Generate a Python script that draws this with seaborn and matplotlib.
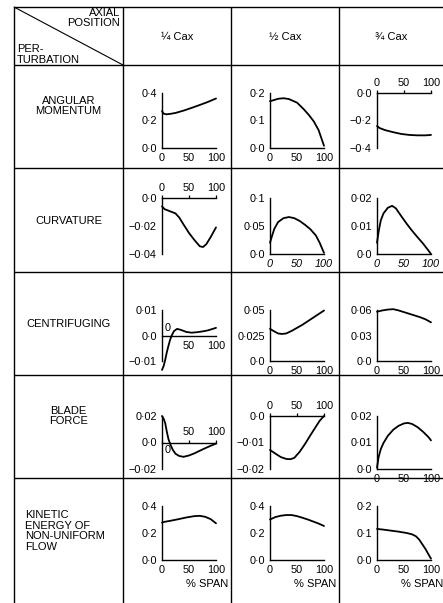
import matplotlib
matplotlib.use('Agg')
import matplotlib.pyplot as plt
import seaborn as sns

sns.set_style('white')
plt.rcParams['font.family'] = ['Liberation Sans', 'DejaVu Sans']
plt.rcParams['text.color'] = 'black'
plt.rcParams['axes.labelcolor'] = 'black'
plt.rcParams['xtick.color'] = 'black'
plt.rcParams['ytick.color'] = 'black'
plt.rcParams['axes.edgecolor'] = 'black'

# 表头与行标签
col_titles = ['¼ Cax', '½ Cax', '¾ Cax']
row_titles = ['ANGULAR\nMOMENTUM', 'CURVATURE', 'CENTRIFUGING', 'BLADE\nFORCE',
              'KINETIC\nENERGY OF\nNON-UNIFORM\nFLOW']
span_ticks = [0, 50, 100]
span_labels = ['0', '50', '100']

# ANGULAR MOMENTUM
am1_x = [0, 3, 8, 15, 25, 40, 55, 70, 85, 100]
am1_y = [0.268, 0.25, 0.245, 0.248, 0.255, 0.272, 0.292, 0.313, 0.335, 0.36]
am2_x = [0, 5, 15, 25, 35, 50, 62, 72, 81, 90, 100]
am2_y = [0.17, 0.173, 0.179, 0.181, 0.178, 0.165, 0.142, 0.12, 0.097, 0.065, 0.008]
am3_x = [0, 5, 15, 30, 45, 60, 75, 90, 100]
am3_y = [-0.24, -0.255, -0.27, -0.285, -0.298, -0.305, -0.308, -0.308, -0.305]

# CURVATURE
cv1_x = [0, 5, 15, 25, 32, 40, 50, 60, 70, 76, 82, 90, 100]
cv1_y = [-0.006, -0.008, -0.0095, -0.011, -0.014, -0.019, -0.025, -0.030, -0.0345,
         -0.035, -0.033, -0.028, -0.021]
cv2_x = [0, 3, 8, 15, 25, 35, 45, 55, 65, 75, 85, 92, 100]
cv2_y = [0.02, 0.03, 0.045, 0.057, 0.064, 0.066, 0.064, 0.059, 0.052, 0.044, 0.033, 0.02, 0.002]
cv3_x = [0, 3, 7, 12, 20, 28, 35, 45, 55, 65, 75, 85, 95, 100]
cv3_y = [0.004, 0.008, 0.012, 0.0145, 0.0165, 0.0172, 0.0163, 0.0135, 0.0108, 0.0083,
         0.006, 0.0038, 0.0013, 0.0]

# CENTRIFUGING
cf1_x = [0, 3, 6, 9, 12, 15, 18, 22, 28, 35, 45, 55, 65, 75, 85, 100]
cf1_y = [-0.0135, -0.012, -0.0095, -0.0065, -0.004, -0.0017, 0.0, 0.0017, 0.0026, 0.0022,
         0.0014, 0.0011, 0.0013, 0.0016, 0.002, 0.003]
cf2_x = [0, 8, 15, 22, 30, 40, 50, 60, 70, 80, 90, 100]
cf2_y = [0.0315, 0.029, 0.027, 0.0265, 0.027, 0.0295, 0.0325, 0.0355, 0.039, 0.0425, 0.046, 0.0495]
cf3_x = [0, 10, 20, 30, 40, 50, 60, 70, 80, 90, 100]
cf3_y = [0.058, 0.0595, 0.0605, 0.061, 0.0595, 0.0575, 0.0555, 0.0535, 0.0515, 0.049, 0.0455]

# BLADE FORCE
bf1_x = [0, 3, 6, 9, 12, 16, 20, 25, 32, 40, 50, 60, 70, 80, 90, 100]
bf1_y = [0.02, 0.018, 0.0145, 0.008, 0.0025, -0.002, -0.0055, -0.0085, -0.0102, -0.0108,
         -0.0098, -0.0082, -0.0062, -0.0043, -0.0025, -0.0008]
bf2_x = [0, 10, 20, 30, 38, 45, 55, 65, 75, 85, 92, 100]
bf2_y = [-0.0128, -0.0142, -0.0155, -0.0162, -0.0163, -0.0158, -0.0135, -0.0105, -0.0072,
         -0.004, -0.0018, 0.0]
bf3_x = [0, 3, 7, 12, 20, 30, 40, 50, 57, 65, 75, 85, 95, 100]
bf3_y = [0.0005, 0.0045, 0.0075, 0.0098, 0.0125, 0.0148, 0.0163, 0.0172, 0.0174, 0.017,
         0.0158, 0.0141, 0.0121, 0.0108]

# KINETIC ENERGY OF NON-UNIFORM FLOW
ke1_x = [0, 5, 15, 30, 45, 60, 70, 80, 90, 100]
ke1_y = [0.277, 0.283, 0.29, 0.302, 0.315, 0.325, 0.327, 0.32, 0.303, 0.272]
ke2_x = [0, 10, 20, 30, 40, 50, 60, 70, 80, 90, 100]
ke2_y = [0.3, 0.318, 0.328, 0.333, 0.333, 0.325, 0.313, 0.3, 0.285, 0.27, 0.252]
ke3_x = [0, 10, 25, 40, 55, 65, 72, 78, 84, 90, 95, 100]
ke3_y = [0.115, 0.113, 0.109, 0.105, 0.1, 0.095, 0.088, 0.076, 0.058, 0.04, 0.022, 0.005]

# y 轴刻度
am_yticks = [[0, 0.2, 0.4], [0, 0.1, 0.2], [-0.4, -0.2, 0]]
am_ylabels = [['0·0', '0·2', '0·4'], ['0·0', '0·1', '0·2'], ['−0·4', '−0·2', '0·0']]
cv_yticks = [[-0.04, -0.02, 0], [0, 0.05, 0.1], [0, 0.01, 0.02]]
cv_ylabels = [['−0·04', '−0·02', '0·0'], ['0·0', '0·05', '0·1'], ['0·0', '0·01', '0·02']]
cf_yticks = [[-0.01, 0, 0.01], [0, 0.025, 0.05], [0, 0.03, 0.06]]
cf_ylabels = [['−0·01', '0·0', '0·01'], ['0·0', '0·025', '0·05'], ['0·0', '0·03', '0·06']]
bf_yticks = [[-0.02, 0, 0.02], [-0.02, -0.01, 0], [0, 0.01, 0.02]]
bf_ylabels = [['−0·02', '0·0', '0·02'], ['−0·02', '−0·01', '0·0'], ['0·0', '0·01', '0·02']]
ke_yticks = [[0, 0.2, 0.4], [0, 0.2, 0.4], [0, 0.1, 0.2]]
ke_ylabels = [['0·0', '0·2', '0·4'], ['0·0', '0·2', '0·4'], ['0·0', '0·1', '0·2']]

curves = [
    [(am1_x, am1_y), (am2_x, am2_y), (am3_x, am3_y)],
    [(cv1_x, cv1_y), (cv2_x, cv2_y), (cv3_x, cv3_y)],
    [(cf1_x, cf1_y), (cf2_x, cf2_y), (cf3_x, cf3_y)],
    [(bf1_x, bf1_y), (bf2_x, bf2_y), (bf3_x, bf3_y)],
    [(ke1_x, ke1_y), (ke2_x, ke2_y), (ke3_x, ke3_y)],
]
yticks = [am_yticks, cv_yticks, cf_yticks, bf_yticks, ke_yticks]
ylabels = [am_ylabels, cv_ylabels, cf_ylabels, bf_ylabels, ke_ylabels]

# 版面（像素）
W, H = 443, 603
col_x0 = [162, 270, 377]
ax_w = 54
row_top = [93, 198, 310, 416, 506]
row_bot = [148, 254, 361, 469, 560]
grid_x = [14, 123, 231, 339]
grid_y = [7, 65, 168, 272, 375, 478]
row_text_y = [106, 221, 324, 416, 531]
fs_tick = 7.8
fs_text = 8

fig = plt.figure(figsize=(W / 100, H / 100), dpi=100)

# 表格线
bg = fig.add_axes([0, 0, 1, 1])
bg.set_xlim(0, W)
bg.set_ylim(H, 0)
bg.axis('off')
bg.vlines(grid_x, grid_y[0], H, color='black', lw=1.0)
bg.hlines(grid_y, grid_x[0], W, color='black', lw=1.0)
bg.plot([grid_x[0], grid_x[1]], [grid_y[0], grid_y[1]], color='black', lw=0.8)
bg.text(120, 8, 'AXIAL\nPOSITION', ha='right', va='top', fontsize=fs_text,
        multialignment='right', linespacing=1.05)
bg.text(17, 65, 'PER-\nTURBATION', ha='left', va='bottom', fontsize=fs_text, linespacing=1.1)
for i, t in enumerate(col_titles):
    bg.text((grid_x[i + 1] + (grid_x[i + 2] if i < 2 else W)) / 2, 37, t,
            ha='center', va='center', fontsize=fs_text)
for j, t in enumerate(row_titles):
    if j == 4:
        bg.text(25, row_text_y[j], t, ha='left', va='center', fontsize=fs_text, linespacing=1.05)
    else:
        bg.text((grid_x[0] + grid_x[1]) / 2, row_text_y[j], t, ha='center', va='center',
                fontsize=fs_text, multialignment='center', linespacing=1.05)

# 各小图
for r in range(5):
    for c in range(3):
        rect = [col_x0[c] / W, 1 - row_bot[r] / H, ax_w / W, (row_bot[r] - row_top[r]) / H]
        ax = fig.add_axes(rect)
        ax.patch.set_alpha(0)
        xs, ys = curves[r][c]
        sns.lineplot(x=xs, y=ys, ax=ax, color='black', linewidth=1.3,
                     estimator=None, sort=False)
        for ln in ax.lines:
            ln.set_clip_on(False)
        yt = yticks[r][c]
        ax.set_xlim(0, 100)
        ax.set_ylim(yt[0], yt[-1])
        ax.set_yticks(yt)
        ax.set_yticklabels(ylabels[r][c])
        ax.set_xticks(span_ticks)
        for s in ['top', 'right', 'bottom']:
            ax.spines[s].set_visible(False)
        ax.spines['left'].set_linewidth(1.0)

        xlab = list(span_labels)
        if yt[-1] == 0:
            side = 'top'
        elif yt[0] == 0:
            side = 'bottom'
        else:
            side = 'top' if (r, c) == (3, 0) else 'bottom'
            xlab[0] = ''
        ax.spines[side].set_visible(True)
        ax.spines[side].set_linewidth(1.0)
        if yt[0] < 0 < yt[-1]:
            ax.spines[side].set_position(('data', 0))
        if side == 'top':
            ax.xaxis.tick_top()
        ax.set_xticklabels(xlab, fontstyle='italic' if r == 1 and c > 0 else 'normal')
        ax.tick_params(direction='out', length=2.5, width=0.9, pad=1.2, labelsize=fs_tick)
        ax.set_xlabel('')
        ax.set_ylabel('')
        if (r, c) == (2, 0):
            ax.text(4, 0.001, '0', fontsize=fs_tick, ha='left', va='bottom')
        if (r, c) == (3, 0):
            ax.text(4, -0.002, '0', fontsize=fs_tick, ha='left', va='top')
        if r == 4:
            ax.set_xlabel('% SPAN', fontsize=fs_text, loc='right')
            ax.xaxis.set_label_coords(1.22, -0.36)

plt.savefig('out.png', dpi=100)
plt.close()
